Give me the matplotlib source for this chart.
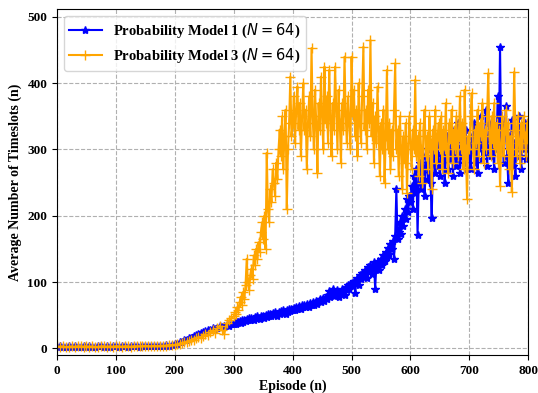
import numpy as np
import matplotlib
matplotlib.use("Agg")
import matplotlib.pyplot as plt

plt.rcParams['font.family'] = ['Liberation Serif', 'DejaVu Serif']
plt.rcParams['font.weight'] = 'bold'
plt.rcParams['mathtext.fontset'] = 'custom'
plt.rcParams['mathtext.it'] = 'DejaVu Sans:italic:normal'
plt.rcParams['mathtext.rm'] = 'DejaVu Sans:normal'

# episodes: coarse where flat, every 2nd episode where noisy
episodes = np.concatenate([np.arange(0, 200, 5), np.arange(200, 300, 4), np.arange(300, 801, 2)])

# Probability Model 1
m1_a = [2, 3, 2, 2, 3, 2, 3, 2, 2, 3, 2, 3, 2, 2, 3, 3, 2, 3, 2, 3,
        3, 2, 3, 3, 2, 3, 3, 3, 2, 3, 3, 4, 3, 3, 4, 4, 4, 5, 4, 5]
m1_b = [6, 7, 9, 10, 12, 13, 15, 16, 18, 20, 21, 23, 24, 26, 27, 28, 30, 29, 31, 33, 32, 34, 35, 34, 37]
m1_c = [
    36, 38, 37, 40, 39, 41, 38, 42, 40, 43, 41, 44, 42, 45, 43, 46, 44, 42, 47, 45, 48, 46, 44, 49, 47,
    48, 46, 50, 47, 51, 49, 52, 48, 53, 50, 54, 51, 49, 55, 52, 56, 53, 57, 54, 52, 58, 55, 59, 56, 60,
    58, 61, 57, 62, 60, 64, 61, 59, 65, 62, 66, 63, 67, 64, 62, 68, 65, 70, 66, 69, 72, 67, 71, 74, 70,
    73, 76, 72, 78, 75, 80, 86, 77, 82, 90, 79, 84, 81, 88, 78, 85, 83, 90, 86, 81, 92, 88, 95, 90, 97,
    98, 94, 102, 84, 100, 106, 96, 110, 104, 114, 108, 118, 112, 106, 122, 116, 126, 112, 120, 130, 90, 124, 132, 118, 128,
    134, 126, 140, 132, 146, 138, 152, 142, 158, 150, 162, 135, 170, 240, 165, 175, 190, 172, 200, 185, 210, 195, 225, 205, 230,
    220, 245, 210, 260, 235, 270, 171, 250, 280, 240, 265, 290, 230, 275, 300, 255, 285, 250, 196, 280, 305, 265, 290, 320, 275,
    260, 295, 280, 310, 250, 290, 320, 270, 300, 285, 330, 260, 295, 310, 275, 340, 290, 265, 305, 320, 280, 300, 330, 270, 310,
    295, 270, 320, 300, 340, 280, 310, 265, 330, 300, 350, 285, 320, 295, 360, 275, 310, 340, 290, 320, 300, 270, 335, 300, 380,
    310, 455, 300, 340, 280, 330, 365, 290, 250, 320, 300, 345, 275, 310, 260, 330, 300, 350, 290, 270, 320, 300, 340, 285, 310, 300,
]
model1 = np.array(m1_a + m1_b + m1_c)

# Probability Model 3
m3_a = [3, 2, 3, 2, 2, 3, 2, 3, 3, 2, 3, 2, 3, 2, 2, 3, 3, 2, 3, 2,
        3, 3, 2, 3, 3, 2, 3, 3, 3, 3, 4, 3, 3, 4, 3, 4, 4, 4, 5, 5]
m3_b = [5, 6, 7, 8, 9, 10, 11, 13, 12, 15, 17, 16, 19, 21, 20, 24, 27, 23, 30, 34, 28, 22, 38, 42, 46]
m3_c = [
    48, 55, 52, 62, 58, 70, 78, 66, 85, 75, 95, 135, 100, 88, 110, 120, 105, 140, 125, 150, 135, 160, 145, 175, 190,
    165, 200, 150, 295, 210, 190, 240, 220, 270, 250, 230, 280, 255, 300, 330, 290, 350, 270, 320, 360, 210, 300, 340, 410, 320,
    340, 380, 310, 360, 395, 330, 370, 290, 350, 400, 330, 360, 270, 340, 380, 320, 453, 350, 300, 390, 340, 265, 370, 330, 410,
    350, 300, 425, 340, 380, 310, 420, 350, 290, 370, 330, 425, 360, 300, 390, 340, 280, 370, 330, 440, 350, 310, 380, 340, 300,
    440, 350, 390, 320, 360, 290, 400, 340, 310, 380, 455, 330, 360, 300, 390, 340, 465, 320, 370, 280, 350, 310, 395, 330, 260,
    340, 300, 360, 250, 320, 420, 300, 340, 270, 330, 290, 360, 430, 300, 330, 260, 350, 300, 240, 320, 280, 340, 235, 300, 350,
    310, 270, 330, 300, 405, 290, 320, 260, 340, 300, 250, 330, 360, 290, 320, 270, 350, 310, 240, 330, 300, 360, 280, 320, 340,
    300, 350, 270, 330, 300, 370, 290, 265, 340, 310, 360, 280, 330, 300, 350, 290, 320, 380, 300, 340, 270, 390, 300, 225, 320,
    300, 350, 385, 300, 270, 330, 310, 360, 290, 340, 320, 370, 280, 330, 300, 350, 415, 320, 290, 350, 310, 370, 300, 340, 280,
    330, 245, 310, 350, 290, 330, 360, 300, 340, 270, 320, 236, 300, 417, 330, 290, 350, 310, 280, 340, 300, 350, 320, 290, 340, 310,
]
model3 = np.array(m3_a + m3_b + m3_c)

fig = plt.figure(figsize=(5.38, 3.93), dpi=100)
ax = fig.add_axes([0.106, 0.097, 0.876, 0.880])

ax.plot(episodes, model1, color='blue', marker='*', markersize=6, linewidth=1.5,
        label='Probability Model 1 ($N = 64$)')
ax.plot(episodes, model3, color='orange', marker='+', markersize=7, linewidth=1.5,
        label='Probability Model 3 ($N = 64$)')

ax.set_xlim(0, 800)
ax.set_ylim(-10, 512)
ax.set_xticks([0, 100, 200, 300, 400, 500, 600, 700, 800])
ax.set_yticks([0, 100, 200, 300, 400, 500])
ax.grid(True, linestyle='--', color='#b0b0b0', linewidth=0.8)
ax.tick_params(labelsize=9.5)
for lab in ax.get_xticklabels() + ax.get_yticklabels():
    lab.set_fontweight('bold')

ax.set_xlabel('Episode (n)', fontsize=10, fontweight='bold', labelpad=2)
ax.set_ylabel('Average Number of Timeslots (n)', fontsize=10, fontweight='bold', labelpad=4)

leg = ax.legend(loc='upper left', prop={'weight': 'bold', 'size': 10.5}, handlelength=2.2,
                handletextpad=0.8, borderaxespad=0.45)

fig.savefig('out.png', dpi=100)
